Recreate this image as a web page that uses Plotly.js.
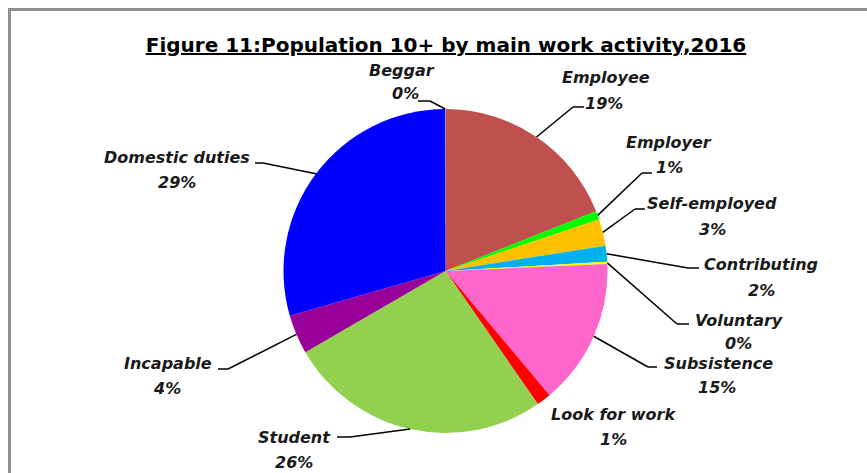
<!DOCTYPE html>
<html>
<head>
<meta charset="utf-8">
<script src="https://cdn.plot.ly/plotly-3.0.1.min.js"></script>
<style>html,body{margin:0;padding:0;background:#fff;}#chart{width:867px;height:473px;}</style>
</head>
<body>
<div id="chart"></div>
<script>
// ---- data ----
const categories = ['Employee','Employer','Self-employed','Contributing','Voluntary','Subsistence','Look for work','Student','Incapable','Domestic duties','Beggar'];
const values = [19.0, 0.85, 2.65, 1.6, 0.2, 14.6, 1.45, 26.3, 3.9, 29.4, 0.05];
const colors = ['#C0504D','#00FF00','#FFC000','#00B0F0','#FFFF00','#FF66CC','#FF0000','#92D050','#990099','#0000FF','#7F7F7F'];
const titleText = 'Figure 11:Population 10+ by main work activity,2016';

// ---- layout (pixels) ----
const W = 867, H = 473;
const CX = 445.5, CY = 271, R = 162;
const px = x => x / W, py = y => 1 - y / H;
// label placement: name centre, percent centre, leader end + elbow (null = no leader)
const labelLayout = {
  'Employee':       {name:[606,78],  pct:[604,103], end:[584,107], elbow:[573,107]},
  'Employer':       {name:[669,142], pct:[669,167], end:[652,173], elbow:[642,173]},
  'Self-employed':  {name:[712,203], pct:[712,230], end:[645,209], elbow:[635,209]},
  'Contributing':   {name:[761,264], pct:[761,290], end:[699,268], elbow:[688,268]},
  'Voluntary':      {name:[739,320], pct:[738,343], end:[689,324], elbow:[677,324]},
  'Subsistence':    {name:[718,363], pct:[717,387], end:[657,367], elbow:[648,367]},
  'Look for work':  {name:[613,414], pct:[613,439], end:null, elbow:null},
  'Student':        {name:[294,437], pct:[294,462], end:[337,437], elbow:[350,437]},
  'Incapable':      {name:[168,363], pct:[167,388], end:[218,369], elbow:[228,369]},
  'Domestic duties':{name:[177,157], pct:[177,182], end:[255,163], elbow:[263,163]},
  'Beggar':         {name:[402,70],  pct:[405,93],  end:[418,101], elbow:[430,101]}
};

const total = values.reduce((a,b)=>a+b,0);
const labelFont = {family:'DejaVu Sans, sans-serif', size:16, color:'#1a1a1a', weight:'bold', style:'italic'};
const annotations = [];
const shapes = [];
let cum = 0;
categories.forEach((c,i)=>{
  const v = values[i];
  const mid = (cum + v/2) / total * 2 * Math.PI;
  cum += v;
  const L = labelLayout[c];
  const pct = Math.round(v/total*100) + '%';
  annotations.push({text:c, x:px(L.name[0]), y:py(L.name[1]), xref:'paper', yref:'paper', xanchor:'center', yanchor:'middle', showarrow:false, font:labelFont});
  annotations.push({text:pct, x:px(L.pct[0]), y:py(L.pct[1]), xref:'paper', yref:'paper', xanchor:'center', yanchor:'middle', showarrow:false, font:labelFont});
  if (L.end) {
    const ex = CX + R*Math.sin(mid), ey = CY - R*Math.cos(mid);
    const ln = {color:'#000', width:1.5};
    shapes.push({type:'line', xref:'paper', yref:'paper', x0:px(ex), y0:py(ey), x1:px(L.elbow[0]), y1:py(L.elbow[1]), line:ln});
    shapes.push({type:'line', xref:'paper', yref:'paper', x0:px(L.elbow[0]), y0:py(L.elbow[1]), x1:px(L.end[0]), y1:py(L.end[1]), line:ln});
  }
});
// outer frame
shapes.push({type:'rect', xref:'paper', yref:'paper', x0:px(9.5), y0:py(9.5), x1:px(900), y1:py(500), line:{color:'#8F8F8F', width:3}, layer:'below'});

const trace = {
  type:'pie', labels:categories, values:values, sort:false, direction:'clockwise', rotation:0,
  marker:{colors:colors, line:{width:0}}, textinfo:'none', hoverinfo:'label+percent',
  domain:{x:[px(CX-R), px(CX+R)], y:[py(CY+R), py(CY-R)]}, showlegend:false
};

const layout = {
  width:W, height:H, margin:{l:0,r:0,t:0,b:0},
  paper_bgcolor:'#fff', plot_bgcolor:'#fff', showlegend:false,
  title:{text:'<b><u>'+titleText+'</u></b>', x:px(446), xanchor:'center', xref:'paper', y:py(45), yanchor:'middle', yref:'paper',
         font:{family:'DejaVu Sans, sans-serif', size:20, color:'#000'}},
  annotations:annotations, shapes:shapes
};
Plotly.newPlot('chart', [trace], layout, {displayModeBar:false, staticPlot:true});
</script>
</body>
</html>
